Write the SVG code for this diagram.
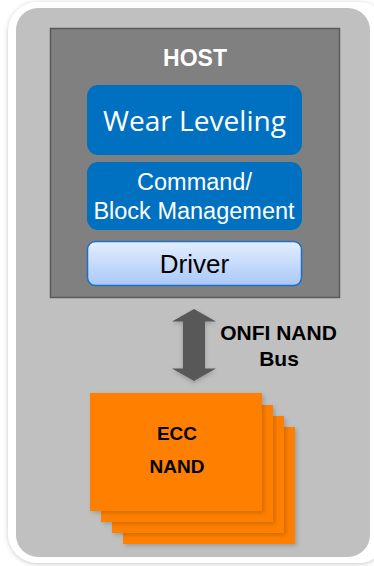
<svg xmlns="http://www.w3.org/2000/svg" width="374" height="566" viewBox="0 0 374 566">
  <style>
    .blk { fill: #0070c0; }
    .wtxt { fill: #ffffff; font-family: "Liberation Sans", Arial, sans-serif; text-anchor: middle; }
    .wtxt.title { font-family: "Open Sans", sans-serif; }
    .btxt { fill: #000000; font-family: "Liberation Sans", Arial, sans-serif; font-weight: bold; text-anchor: middle; }
    .nand { fill: #ff8000; filter: url(#cardShadow); }
  </style>
  <defs>
    <linearGradient id="driverFill" x1="0" y1="0" x2="0" y2="1">
      <stop offset="0" stop-color="#e4eeff"/>
      <stop offset="1" stop-color="#a9c8f7"/>
    </linearGradient>
    <filter id="frameShadow" x="-10%" y="-10%" width="120%" height="120%">
      <feDropShadow dx="0" dy="1" stdDeviation="2.5" flood-color="#000" flood-opacity="0.22"/>
    </filter>
    <filter id="cardShadow" x="-10%" y="-10%" width="130%" height="130%">
      <feDropShadow dx="2" dy="2" stdDeviation="2" flood-color="#000" flood-opacity="0.18"/>
    </filter>
    <filter id="arrowShadow" x="-30%" y="-10%" width="160%" height="130%">
      <feDropShadow dx="0" dy="2" stdDeviation="2" flood-color="#000" flood-opacity="0.2"/>
    </filter>
  </defs>

  <!-- page background and framed panel -->
  <rect x="0" y="0" width="374" height="566" fill="#ffffff"/>
  <rect x="8" y="2" width="380" height="561" rx="30" fill="#ffffff" filter="url(#frameShadow)"/>
  <rect x="16" y="8" width="354" height="549" rx="22" fill="#c0c0c0"/>

  <!-- host block -->
  <g id="host">
    <rect x="50.5" y="28.5" width="289" height="269" fill="#808080" stroke="#5a5a5a" stroke-width="1.5"/>
    <text class="wtxt" x="195" y="66" font-size="23" font-weight="bold">HOST</text>
  </g>

  <g id="wear-leveling">
    <rect class="blk" x="87" y="85" width="215" height="70" rx="11"/>
    <text class="wtxt title" x="194.5" y="131" font-size="28" textLength="183" lengthAdjust="spacingAndGlyphs">Wear Leveling</text>
  </g>

  <g id="block-management">
    <rect class="blk" x="87" y="162" width="215" height="68" rx="11"/>
    <text class="wtxt" x="194.5" y="189.5" font-size="23.5">Command/</text>
    <text class="wtxt" x="194" y="218.5" font-size="23.5">Block Management</text>
  </g>

  <g id="driver">
    <rect x="87.5" y="241.5" width="214" height="44" rx="8" fill="url(#driverFill)" stroke="#1f6fc0" stroke-width="1.5"/>
    <text x="194.5" y="273" font-size="26" fill="#000" text-anchor="middle" font-family="'Liberation Sans', Arial, sans-serif">Driver</text>
  </g>

  <!-- bus connector -->
  <g id="connectors">
    <path d="M194,309 L216,321.5 L205,321.5 L205,368.5 L216,368.5 L194,381 L172,368.5 L183,368.5 L183,321.5 L172,321.5 Z" fill="#595959" filter="url(#arrowShadow)"/>
  </g>

  <g id="bus-label">
    <text class="btxt" x="278.5" y="340" font-size="21">ONFI NAND</text>
    <text class="btxt" x="279" y="366" font-size="21">Bus</text>
  </g>

  <!-- stacked NAND devices, back to front -->
  <g id="nand">
    <rect class="nand" x="123" y="427" width="172" height="117"/>
    <rect class="nand" x="112" y="416" width="172" height="117"/>
    <rect class="nand" x="101" y="405" width="172" height="117"/>
    <rect class="nand" x="90" y="393" width="172" height="118"/>
    <text class="btxt" x="177" y="440" font-size="19">ECC</text>
    <text class="btxt" x="177" y="473" font-size="19">NAND</text>
  </g>
</svg>
